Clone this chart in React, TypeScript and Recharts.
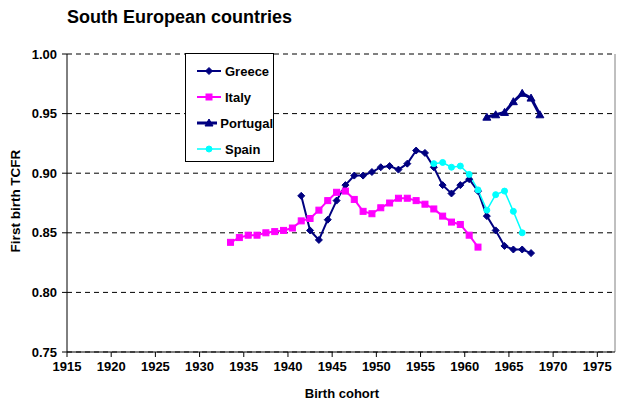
import { LineChart, Line, XAxis, YAxis, CartesianGrid, Legend, ReferenceLine } from 'recharts'

const xTicks = [1915, 1920, 1925, 1930, 1935, 1940, 1945, 1950, 1955, 1960, 1965, 1970, 1975]
const yTicks = [0.75, 0.8, 0.85, 0.9, 0.95, 1.0]

const greeceYears = [1941, 1942, 1943, 1944, 1945, 1946, 1947, 1948, 1949, 1950, 1951, 1952, 1953, 1954,
  1955, 1956, 1957, 1958, 1959, 1960, 1961, 1962, 1963, 1964, 1965, 1966, 1967]
const greeceTcfr = [0.881, 0.852, 0.844, 0.861, 0.877, 0.890, 0.898, 0.898, 0.901, 0.905, 0.906, 0.903, 0.908, 0.919,
  0.917, 0.905, 0.890, 0.883, 0.890, 0.895, 0.885, 0.864, 0.852, 0.839, 0.836, 0.836, 0.833]

const italyYears = [1933, 1934, 1935, 1936, 1937, 1938, 1939, 1940, 1941, 1942, 1943, 1944, 1945, 1946, 1947,
  1948, 1949, 1950, 1951, 1952, 1953, 1954, 1955, 1956, 1957, 1958, 1959, 1960, 1961]
const italyTcfr = [0.842, 0.846, 0.848, 0.848, 0.850, 0.851, 0.852, 0.854, 0.860, 0.862, 0.869, 0.877, 0.884, 0.885, 0.878,
  0.868, 0.866, 0.871, 0.875, 0.879, 0.879, 0.877, 0.874, 0.870, 0.864, 0.859, 0.857, 0.848, 0.838]

const portugalYears = [1962, 1963, 1964, 1965, 1966, 1967, 1968]
const portugalTcfr = [0.947, 0.949, 0.951, 0.960, 0.967, 0.963, 0.949]

const spainYears = [1956, 1957, 1958, 1959, 1960, 1961, 1962, 1963, 1964, 1965, 1966]
const spainTcfr = [0.908, 0.909, 0.905, 0.906, 0.899, 0.886, 0.869, 0.882, 0.885, 0.868, 0.850]

// Excel plotted the cohorts half a year to the right of the tick
const OFFSET = 0.5
const rows = (years: number[], vals: number[]) => years.map((y, i) => ({ cohort: y + OFFSET, v: vals[i] }))

const NAVY = '#000080'
const MAGENTA = '#FF00FF'
const CYAN = '#00FFFF'
const FONT = '"Liberation Sans", Arial, sans-serif'

type Shape = 'diamond' | 'square' | 'triangle' | 'circle'

function marker(shape: Shape, cx: number, cy: number, color: string, key?: number) {
  if (shape === 'diamond') {
    return <path key={key} d={`M${cx},${cy - 3.5}L${cx + 3.5},${cy}L${cx},${cy + 3.5}L${cx - 3.5},${cy}Z`} fill={color} stroke={color} />
  }
  if (shape === 'square') {
    return <rect key={key} x={cx - 3} y={cy - 3} width={6} height={6} fill={color} stroke={color} />
  }
  if (shape === 'triangle') {
    return <path key={key} d={`M${cx},${cy - 4}L${cx + 4},${cy + 3}L${cx - 4},${cy + 3}Z`} fill={color} stroke={color} />
  }
  return <circle key={key} cx={cx} cy={cy} r={3} fill={color} stroke={color} />
}

const dot = (shape: Shape, color: string) => (p: any) => marker(shape, p.cx, p.cy, color, p.index)

const series = [
  { name: 'Greece', color: NAVY, width: 2, shape: 'diamond' as Shape, data: rows(greeceYears, greeceTcfr) },
  { name: 'Italy', color: MAGENTA, width: 2, shape: 'square' as Shape, data: rows(italyYears, italyTcfr) },
  { name: 'Portugal', color: NAVY, width: 3, shape: 'triangle' as Shape, data: rows(portugalYears, portugalTcfr) },
  { name: 'Spain', color: CYAN, width: 1.5, shape: 'circle' as Shape, data: rows(spainYears, spainTcfr) },
]

function LegendBox() {
  return (
    <div style={{ border: '1px solid #000', background: '#fff', width: 87, height: 103, boxSizing: 'content-box', paddingTop: 4 }}>
      {series.map(s => (
        <div key={s.name} style={{ display: 'flex', alignItems: 'center', height: 26, paddingLeft: 10 }}>
          <svg width={26} height={12} style={{ marginRight: 3 }}>
            <line x1={1} y1={6} x2={25} y2={6} stroke={s.color} strokeWidth={s.width} />
            {marker(s.shape, 13, 6, s.color)}
          </svg>
          <span style={{ fontFamily: FONT, fontWeight: 'bold', fontSize: 13, color: '#000' }}>{s.name}</span>
        </div>
      ))}
    </div>
  )
}

const tickStyle = { fontFamily: FONT, fontWeight: 'bold', fontSize: 13, fill: '#000' }

export default function App() {
  return (
    <div style={{ position: 'absolute', left: 0, top: 0, width: 618, height: 404, background: '#fff' }}>
      <div style={{ position: 'absolute', left: 67, top: 7, fontFamily: FONT, fontWeight: 'bold', fontSize: 18, color: '#000' }}>
        South European countries
      </div>
      <LineChart width={618} height={404} margin={{ top: 54, right: 3, bottom: 0, left: 0 }}>
        <CartesianGrid vertical={false} stroke="#000" strokeDasharray="5 4" />
        <ReferenceLine x={1977} stroke="#808080" />
        <ReferenceLine y={1} stroke="#808080" strokeDasharray="5 4" />
        <XAxis
          type="number"
          dataKey="cohort"
          domain={[1915, 1977]}
          ticks={xTicks}
          allowDataOverflow
          tick={tickStyle}
          tickSize={5}
          tickMargin={5}
          height={52}
          axisLine={{ stroke: '#000' }}
          tickLine={{ stroke: '#000' }}
          label={{
            content: () => (
              <text x={342} y={398} textAnchor="middle" style={{ fontFamily: FONT, fontWeight: 'bold', fontSize: 13 }} fill="#000">
                Birth cohort
              </text>
            ),
          }}
        />
        <YAxis
          type="number"
          domain={[0.75, 1]}
          ticks={yTicks}
          tickFormatter={(v: number) => v.toFixed(2)}
          tick={tickStyle}
          tickSize={5}
          tickMargin={5}
          width={67}
          axisLine={{ stroke: '#000' }}
          tickLine={{ stroke: '#000' }}
          label={{
            content: () => (
              <text x={20} y={201} transform="rotate(-90 20 201)" textAnchor="middle" style={{ fontFamily: FONT, fontWeight: 'bold', fontSize: 13.5 }} fill="#000">
                First birth TCFR
              </text>
            ),
          }}
        />
        <Legend
          layout="horizontal"
          verticalAlign="middle"
          align="center"
          content={() => <LegendBox />}
          wrapperStyle={{ left: 185, top: 53, width: 89, height: 105 }}
        />
        {series.map(s => (
          <Line
            key={s.name}
            name={s.name}
            data={s.data}
            dataKey="v"
            type="linear"
            stroke={s.color}
            strokeWidth={s.width}
            dot={dot(s.shape, s.color)}
            activeDot={false}
            isAnimationActive={false}
          />
        ))}
      </LineChart>
    </div>
  )
}
